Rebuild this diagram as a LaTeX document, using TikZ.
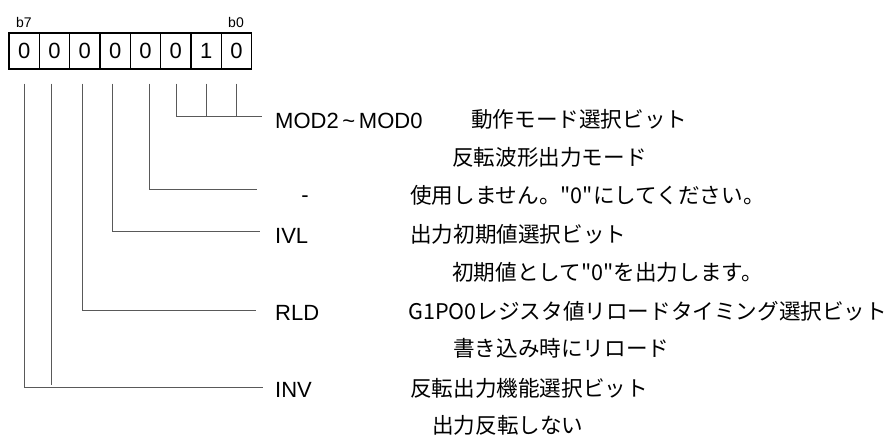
\documentclass[tikz,border=0pt]{standalone}
\usepackage{fontspec}
\setmainfont{Liberation Sans}
\newfontfamily\jp{Noto Sans CJK JP}
\begin{document}
\begin{tikzpicture}[x=1pt,y=-1pt,
  cell/.style={draw, line width=1.2pt, minimum width=30.33pt, minimum height=36pt, inner sep=0pt, font=\fontsize{22}{22}\selectfont},
  wire/.style={draw=black!65, line width=0.9pt},
  bitlbl/.style={inner sep=0pt, font=\fontsize{14}{14}\selectfont},
  lbl/.style={anchor=west, inner sep=0pt, text height=16pt, text depth=0pt, font=\fontsize{22}{22}\selectfont},
  desc/.style={anchor=west, inner sep=0pt, text height=18pt, text depth=3pt, font=\jp\fontsize{21.6}{21.6}\selectfont}]
\useasboundingbox (0,0) rectangle (888,434);
% register cells
\foreach \i/\v [count=\k from 0] in {7/0,6/0,5/0,4/0,3/0,2/0,1/1,0/0}{
  \node[cell] (c\i) at ({9+30.33*\k+15.17},51) {\v};
}
\node[bitlbl] (b7) at (24,22) {b7};
\node[bitlbl] (b0) at (236,22) {b0};
% line end coordinates
\coordinate (m2) at (262,116);
\coordinate (m3) at (257,189);
\coordinate (m4) at (260,231);
\coordinate (m5) at (256,310);
\coordinate (m7) at (262.7,387);
% connectors
\draw[wire] ([yshift=-14pt]c0.south) -- (c0.south |- m2);
\draw[wire] ([yshift=-14pt]c1.south) -- (c1.south |- m2);
\draw[wire] ([xshift=0.5pt,yshift=-14pt]c2.south) |- (m2);
\draw[wire] ([xshift=4.3pt,yshift=-14pt]c3.south) |- (m3);
\draw[wire] ([xshift=-3pt,yshift=-14pt]c4.south) |- (m4);
\draw[wire] ([xshift=-2.8pt,yshift=-14pt]c5.south) |- (m5);
\draw[wire, shorten >=2pt] ([xshift=-2.8pt,yshift=-14pt]c6.south) -- ([xshift=-2.8pt]c6.south |- m7);
\draw[wire] ([xshift=-0.2pt,yshift=-14pt]c7.south) |- (m7);
% field names
\node[lbl] (nMOD) at (275,120) {MOD2\,\textasciitilde\,MOD0};
\node[lbl, anchor=center] (nDash) at (305,194) {-};
\node[lbl] (nIVL) at (275,235) {IVL};
\node[lbl] (nRLD) at (275,312) {RLD};
\node[lbl] (nINV) at (275,389) {INV};
% descriptions
\node[desc] (dMOD) at (471,120) {動作モード選択ビット};
\node[desc] (sMOD) at (452,158) {反転波形出力モード};
\node[desc] (dDash) at (410,196) {使用しません。"0"にしてください。};
\node[desc] (dIVL) at (410,235) {出力初期値選択ビット};
\node[desc] (sIVL) at (452,273) {初期値として"0"を出力します。};
\node[desc] (dRLD) at (408,312) {G1PO0レジスタ値リロードタイミング選択ビット};
\node[desc] (sRLD) at (453,349) {書き込み時にリロード};
\node[desc] (dINV) at (410,389) {反転出力機能選択ビット};
\node[desc] (sINV) at (432,426) {出力反転しない};
\end{tikzpicture}
\end{document}
